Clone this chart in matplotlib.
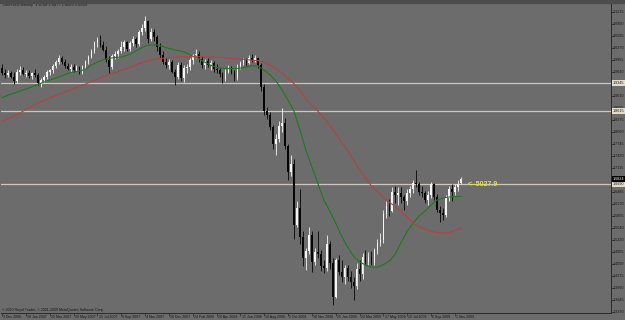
import matplotlib
matplotlib.use("Agg")
import matplotlib.pyplot as plt
import numpy as np
from matplotlib.patches import Rectangle

# GBPUSD weekly candles, 3 Dec 2006 .. 15 Nov 2009
opens = [
    1.975, 1.962, 1.955, 1.962, 1.952, 1.940, 1.965, 1.970, 1.958, 1.962,
    1.953, 1.960, 1.956, 1.936, 1.942, 1.951, 1.963, 1.968, 1.980, 1.990,
    2.002, 1.990, 1.980, 1.973, 1.978, 1.970, 1.976, 1.962, 1.978, 1.990,
    2.004, 2.020, 2.040, 2.048, 2.035, 2.022, 1.995, 1.978, 2.005, 2.012,
    2.020, 2.030, 2.042, 2.025, 2.040, 2.050, 2.038, 2.068, 2.080, 2.098,
    2.050, 2.070, 2.055, 2.030, 2.008, 1.990, 1.983, 1.990, 1.965, 1.950,
    1.982, 1.948, 1.975, 1.978, 1.995, 2.008, 2.012, 1.998, 1.982, 1.992,
    1.982, 1.988, 1.972, 1.968, 1.958, 1.945, 1.965, 1.975, 1.962, 1.948,
    1.980, 1.988, 1.995, 1.988, 2.002, 1.996, 2.000, 1.982, 1.925, 1.862,
    1.852, 1.818, 1.775, 1.788, 1.822, 1.830, 1.768, 1.700, 1.722, 1.560,
    1.605, 1.530, 1.475, 1.492, 1.535, 1.465, 1.490, 1.484, 1.452, 1.448,
    1.512, 1.460, 1.372, 1.468, 1.438, 1.425, 1.448, 1.425, 1.410, 1.400,
    1.445, 1.432, 1.478, 1.465, 1.478, 1.462, 1.495, 1.515, 1.522, 1.590,
    1.612, 1.598, 1.648, 1.640, 1.645, 1.635, 1.625, 1.645, 1.655, 1.672,
    1.668, 1.648, 1.645, 1.628, 1.640, 1.668, 1.635, 1.600, 1.592, 1.588,
    1.632, 1.655, 1.648, 1.662, 1.6708,
]
highs = [
    1.985, 1.972, 1.968, 1.966, 1.965, 1.972, 1.980, 1.978, 1.968, 1.970,
    1.965, 1.972, 1.962, 1.948, 1.955, 1.968, 1.972, 1.984, 1.995, 2.008,
    2.005, 1.998, 1.988, 1.985, 1.985, 1.982, 1.980, 1.982, 1.995, 2.008,
    2.025, 2.045, 2.056, 2.060, 2.045, 2.032, 2.005, 2.012, 2.020, 2.025,
    2.045, 2.048, 2.046, 2.045, 2.058, 2.055, 2.075, 2.090, 2.112, 2.100,
    2.080, 2.078, 2.060, 2.040, 2.020, 2.000, 1.998, 1.995, 1.972, 1.990,
    1.990, 1.982, 1.985, 2.000, 2.012, 2.025, 2.020, 2.005, 1.998, 2.000,
    1.995, 1.992, 1.985, 1.975, 1.965, 1.972, 1.982, 1.980, 1.968, 1.985,
    1.992, 2.000, 2.002, 2.008, 2.012, 2.008, 2.004, 1.988, 1.932, 1.872,
    1.858, 1.825, 1.800, 1.835, 1.868, 1.842, 1.775, 1.745, 1.735, 1.625,
    1.655, 1.545, 1.500, 1.555, 1.545, 1.500, 1.545, 1.495, 1.470, 1.535,
    1.520, 1.475, 1.475, 1.482, 1.468, 1.455, 1.455, 1.440, 1.425, 1.462,
    1.470, 1.488, 1.495, 1.490, 1.492, 1.500, 1.525, 1.540, 1.600, 1.625,
    1.630, 1.660, 1.665, 1.660, 1.662, 1.640, 1.655, 1.665, 1.680, 1.705,
    1.675, 1.665, 1.652, 1.650, 1.675, 1.672, 1.642, 1.612, 1.605, 1.640,
    1.665, 1.668, 1.670, 1.680, 1.6877,
]
lows = [
    1.955, 1.948, 1.950, 1.948, 1.931, 1.936, 1.955, 1.955, 1.950, 1.948,
    1.945, 1.952, 1.930, 1.925, 1.935, 1.945, 1.955, 1.962, 1.975, 1.985,
    1.985, 1.975, 1.968, 1.965, 1.965, 1.966, 1.958, 1.958, 1.972, 1.985,
    2.000, 2.015, 2.030, 2.030, 2.018, 1.990, 1.960, 1.972, 1.998, 2.002,
    2.015, 2.020, 2.018, 2.020, 2.032, 2.030, 2.032, 2.060, 2.072, 2.040,
    2.045, 2.045, 2.020, 2.000, 1.985, 1.975, 1.972, 1.960, 1.930, 1.945,
    1.940, 1.938, 1.962, 1.970, 1.985, 2.000, 1.990, 1.975, 1.972, 1.978,
    1.968, 1.965, 1.962, 1.952, 1.935, 1.940, 1.960, 1.958, 1.940, 1.942,
    1.972, 1.982, 1.980, 1.985, 1.990, 1.990, 1.975, 1.915, 1.850, 1.840,
    1.812, 1.760, 1.745, 1.780, 1.805, 1.760, 1.680, 1.690, 1.525, 1.555,
    1.510, 1.452, 1.443, 1.485, 1.437, 1.455, 1.475, 1.440, 1.436, 1.440,
    1.445, 1.350, 1.368, 1.430, 1.412, 1.405, 1.415, 1.395, 1.364, 1.392,
    1.415, 1.420, 1.455, 1.455, 1.455, 1.455, 1.485, 1.505, 1.515, 1.580,
    1.585, 1.595, 1.620, 1.615, 1.620, 1.600, 1.615, 1.635, 1.645, 1.660,
    1.640, 1.635, 1.620, 1.615, 1.632, 1.628, 1.595, 1.570, 1.575, 1.582,
    1.625, 1.625, 1.640, 1.652, 1.6683,
]
closes = [
    1.962, 1.955, 1.962, 1.952, 1.940, 1.965, 1.970, 1.958, 1.962, 1.953,
    1.960, 1.956, 1.936, 1.942, 1.951, 1.963, 1.968, 1.980, 1.990, 2.002,
    1.990, 1.980, 1.973, 1.978, 1.970, 1.976, 1.962, 1.978, 1.990, 2.004,
    2.020, 2.040, 2.048, 2.035, 2.022, 1.995, 1.978, 2.005, 2.012, 2.020,
    2.030, 2.042, 2.025, 2.040, 2.050, 2.038, 2.068, 2.080, 2.098, 2.050,
    2.070, 2.055, 2.030, 2.008, 1.990, 1.983, 1.990, 1.965, 1.950, 1.982,
    1.948, 1.975, 1.978, 1.995, 2.008, 2.012, 1.998, 1.982, 1.992, 1.982,
    1.988, 1.972, 1.968, 1.958, 1.945, 1.965, 1.975, 1.962, 1.948, 1.980,
    1.988, 1.995, 1.988, 2.002, 1.996, 2.000, 1.982, 1.925, 1.862, 1.852,
    1.818, 1.775, 1.788, 1.822, 1.830, 1.768, 1.700, 1.722, 1.560, 1.605,
    1.530, 1.475, 1.492, 1.535, 1.465, 1.490, 1.484, 1.452, 1.448, 1.512,
    1.460, 1.372, 1.468, 1.438, 1.425, 1.448, 1.425, 1.410, 1.400, 1.445,
    1.432, 1.478, 1.465, 1.478, 1.462, 1.495, 1.515, 1.522, 1.590, 1.612,
    1.598, 1.648, 1.640, 1.645, 1.635, 1.625, 1.645, 1.655, 1.672, 1.668,
    1.648, 1.645, 1.628, 1.640, 1.668, 1.635, 1.600, 1.592, 1.588, 1.632,
    1.655, 1.648, 1.662, 1.670, 1.6824,
]

# moving averages as drawn on the chart, one value every 2nd bar
green_ma = [
    1.896, 1.903, 1.908, 1.914, 1.919, 1.925, 1.931, 1.937, 1.943, 1.948,
    1.954, 1.960, 1.964, 1.966, 1.971, 1.982, 1.990, 1.996, 2.000, 2.002,
    2.003, 2.008, 2.015, 2.024, 2.032, 2.035, 2.035, 2.031, 2.026, 2.022,
    2.019, 2.014, 2.006, 1.999, 1.990, 1.982, 1.976, 1.974, 1.973, 1.973,
    1.974, 1.977, 1.981, 1.979, 1.969, 1.956, 1.940, 1.916, 1.890, 1.861,
    1.811, 1.758, 1.714, 1.671, 1.627, 1.598, 1.566, 1.532, 1.503, 1.479,
    1.464, 1.456, 1.450, 1.450, 1.457, 1.466, 1.485, 1.516, 1.545, 1.566,
    1.585, 1.598, 1.614, 1.627, 1.632, 1.635, 1.636, 1.637,
]
red_ma = [
    1.835, 1.841, 1.848, 1.856, 1.865, 1.874, 1.882, 1.889, 1.895, 1.902,
    1.908, 1.914, 1.920, 1.927, 1.932, 1.939, 1.945, 1.952, 1.957, 1.962,
    1.968, 1.973, 1.979, 1.986, 1.991, 1.995, 1.999, 2.000, 2.002, 2.003,
    2.004, 2.004, 2.004, 2.004, 2.004, 2.003, 2.003, 2.002, 2.000, 1.999,
    1.998, 1.996, 1.995, 1.994, 1.990, 1.982, 1.973, 1.961, 1.948, 1.933,
    1.915, 1.893, 1.877, 1.861, 1.843, 1.823, 1.802, 1.779, 1.758, 1.732,
    1.706, 1.685, 1.664, 1.648, 1.633, 1.621, 1.610, 1.598, 1.582, 1.566,
    1.557, 1.550, 1.545, 1.541, 1.540, 1.541, 1.547, 1.553,
]

hlines = [1.9345, 1.8615, 1.6690]
last_price = 1.6824

date_labels = ["3 Dec 2006", "28 Jan 2007", "25 Mar 2007", "20 May 2007", "15 Jul 2007",
               "9 Sep 2007", "4 Nov 2007", "30 Dec 2007", "24 Feb 2008", "20 Apr 2008",
               "15 Jun 2008", "10 Aug 2008", "5 Oct 2008", "30 Nov 2008", "25 Jan 2009",
               "22 Mar 2009", "17 May 2009", "12 Jul 2009", "6 Sep 2009", "1 Nov 2009"]
price_labels = ["2.1530", "2.1215", "2.0900", "2.0585", "2.0270", "1.9955", "1.9640",
                "1.9325", "1.9010", "1.8695", "1.8375", "1.8060", "1.7745", "1.7430",
                "1.7115", "1.6800", "1.6485", "1.6170", "1.5855", "1.5540", "1.5220",
                "1.4905", "1.4590", "1.4275", "1.3960", "1.3645", "1.3330"]

header = "GBPUSD,Weekly  1.6708 1.6877 1.6683 1.6824"
footer = "\u00a9 2010 Royal Trader, \u00a9 2001-2009 MetaQuotes Software Corp."
note = "<--5027.9"

BG = "#6c6c6c"
DARK = "#151515"
LINE = "#cdc7bb"
YMIN, YMAX = 1.3296, 2.1455
plt.rcParams["font.family"] = ["Liberation Sans", "DejaVu Sans"]

fig = plt.figure(figsize=(6.25, 3.2), dpi=100, facecolor=BG)
fig.patches.append(Rectangle((0, 317 / 320), 1, 3 / 320, transform=fig.transFigure,
                             color="#4c4c4c", zorder=0))
ax = fig.add_axes([1 / 625, 7 / 320, 610 / 625, 310 / 320], facecolor=BG)

o, h, l, c = map(np.asarray, (opens, highs, lows, closes))
idx = np.arange(len(c))
up = c >= o
col = np.where(up, "#f4f4f4", "#050505")

for v in hlines:
    ax.axhline(v, color=LINE, lw=0.9, zorder=1)

ax.vlines(idx, l, h, colors=col, lw=0.6, zorder=2)
ax.bar(idx, np.maximum(np.abs(c - o), 0.002), bottom=np.minimum(o, c),
       width=0.55, color=col, linewidth=0, zorder=3)

ax.plot(np.arange(len(green_ma)) * 2, green_ma, color="#1d7a1d", lw=0.8, zorder=4)
ax.plot(np.arange(len(red_ma)) * 2, red_ma, color="#b5423f", lw=0.8, zorder=4)

ax.text(len(c) + 1.4, hlines[2], note, color="#e2e24e", fontsize=5, fontweight="bold",
        ha="left", va="center", zorder=5)

ax.set_xlim(-0.34, 204.4)
ax.set_ylim(YMIN, YMAX)

# axes frame like the terminal
for s in ("left", "top"):
    ax.spines[s].set_visible(False)
for s in ("right", "bottom"):
    ax.spines[s].set_color("#2a2a2a")
    ax.spines[s].set_linewidth(0.7)

date_pos = np.arange(len(date_labels)) * 8
ax.set_xticks(date_pos)
ax.set_xticklabels([])
ax.tick_params(axis="x", length=2.5, width=0.5, color="#2a2a2a", direction="out")
for x, lab in zip(date_pos, date_labels):
    ax.text(x + 0.4, -0.0065, lab, transform=ax.get_xaxis_transform(), ha="left",
            va="top", fontsize=2.5, color=DARK, clip_on=False)

yvals = [float(s) for s in price_labels]
ax.yaxis.tick_right()
ax.set_yticks([v for v in yvals if YMIN < v < YMAX])
ax.set_yticklabels([])
ax.tick_params(axis="y", length=2, width=0.5, color="#2a2a2a", direction="out")
ytr = ax.get_yaxis_transform()
for v, lab in zip(yvals, price_labels):
    if v > YMAX:
        # topmost scale label sits against the window edge
        ax.text(1.0035, 1.0, lab, transform=ax.transAxes, ha="left", va="bottom",
                fontsize=2.7, color=DARK, clip_on=False)
    else:
        ax.text(1.0035, v, lab, transform=ytr, ha="left", va="center",
                fontsize=2.7, color=DARK, clip_on=False)

box = dict(boxstyle="square,pad=0.25", ec="none")
for v in hlines:
    ax.text(1.0035, v, f"{v:.4f}", transform=ytr, ha="left", va="center", fontsize=2.7,
            color=DARK, clip_on=False, bbox=dict(box, fc="#e4dccb"), zorder=6)
ax.text(1.0035, last_price, f"{last_price:.4f}", transform=ytr, ha="left", va="center",
        fontsize=2.7, color="white", clip_on=False, bbox=dict(box, fc="black"), zorder=7)

ax.text(0.003, 0.995, header, transform=ax.transAxes, ha="left", va="center",
        fontsize=2.8, color=DARK)
ax.text(0.002, 0.01, footer, transform=ax.transAxes, ha="left", va="center",
        fontsize=2.6, color=DARK)

fig.savefig("out.png", dpi=100, facecolor=BG)
